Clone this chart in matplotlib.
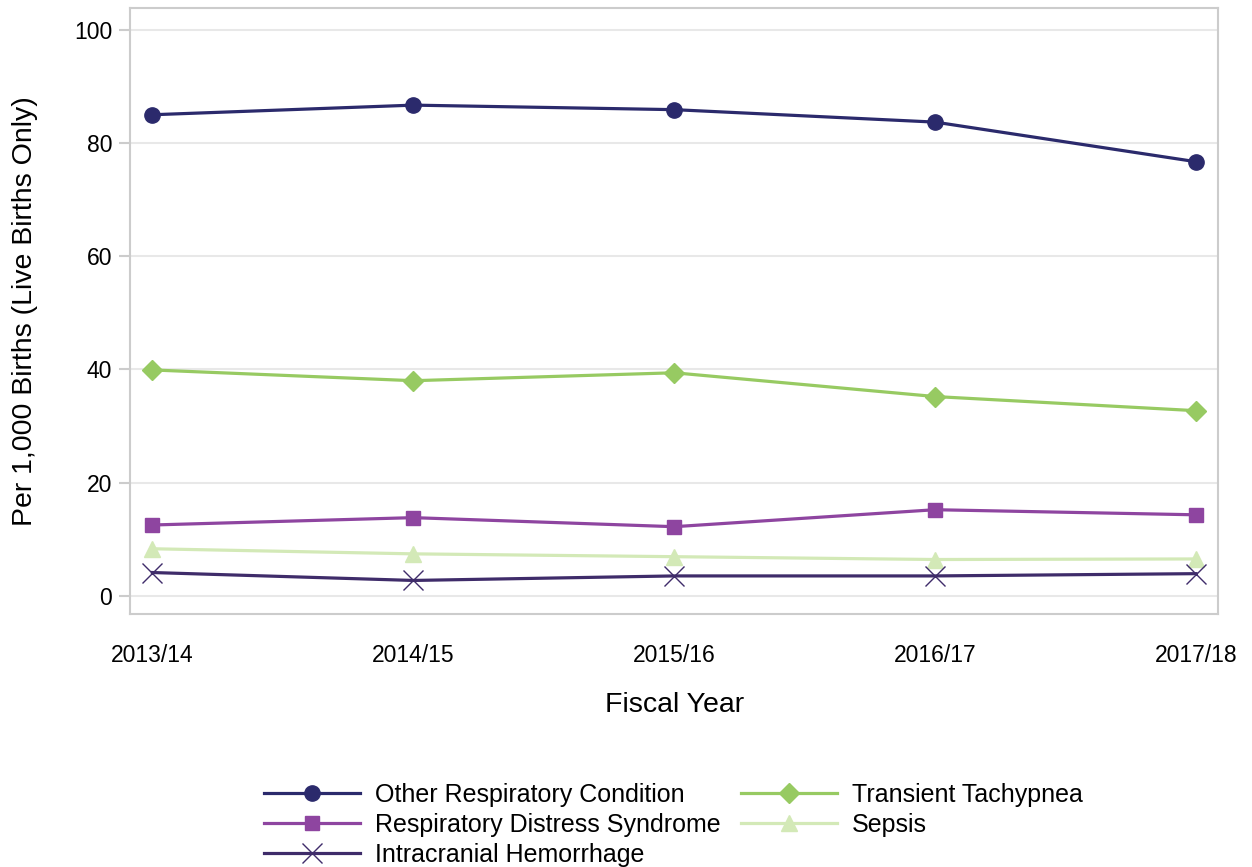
import matplotlib
matplotlib.use("Agg")
import matplotlib.pyplot as plt

plt.rcParams['font.family'] = ['Liberation Sans', 'DejaVu Sans']

years = ['2013/14', '2014/15', '2015/16', '2016/17', '2017/18']
other_resp = [85.0, 86.7, 85.9, 83.7, 76.7]
trans_tachy = [39.9, 38.0, 39.4, 35.2, 32.7]
resp_distress = [12.5, 13.8, 12.2, 15.2, 14.3]
sepsis = [8.3, 7.4, 6.9, 6.4, 6.5]
ich = [4.1, 2.7, 3.5, 3.5, 3.9]

fig = plt.figure(figsize=(12.52, 8.67), dpi=100)
ax = fig.add_axes([0.104, 0.292, 0.869, 0.699])
x = range(len(years))

l1, = ax.plot(x, other_resp, color='#2b2a6c', lw=2.3, marker='o', ms=11)
l2, = ax.plot(x, trans_tachy, color='#97ca62', lw=2.3, marker='D', ms=10)
l3, = ax.plot(x, resp_distress, color='#8e45a0', lw=2.3, marker='s', ms=10)
l4, = ax.plot(x, sepsis, color='#d3e9b7', lw=2.3, marker='^', ms=11)
l5, = ax.plot(x, ich, color='#3f2c6a', lw=2.3, marker='x', ms=14, mew=1)

ax.set_xlim(-0.085, 4.085)
ax.set_ylim(-3.2, 103.9)
ax.set_yticks([0, 20, 40, 60, 80, 100])
ax.set_xticks(list(x))
ax.set_xticklabels(years)
ax.grid(axis='y', color='#e8e8e8', lw=1.5)
ax.set_axisbelow(True)
for s in ax.spines.values():
    s.set_color('#cccccc')
    s.set_linewidth(1.5)
ax.tick_params(axis='y', length=8, width=1.5, color='#cccccc', labelsize=16.5, pad=5)
ax.tick_params(axis='x', length=0, labelsize=16.5, pad=22)
ax.set_xlabel('Fiscal Year', fontsize=20.5, labelpad=18)
ax.set_ylabel('Per 1,000 Births (Live Births Only)', fontsize=20.5, labelpad=26)

fig.legend([l1, l3, l5, l2, l4],
           ['Other Respiratory Condition', 'Respiratory Distress Syndrome',
            'Intracranial Hemorrhage', 'Transient Tachypnea', 'Sepsis'],
           ncol=2, loc='lower center', bbox_to_anchor=(0.538, -0.026),
           frameon=False, fontsize=18, handlelength=3.85, columnspacing=0.8,
           labelspacing=0.25, handletextpad=0.6)

fig.savefig('out.png', dpi=100)
